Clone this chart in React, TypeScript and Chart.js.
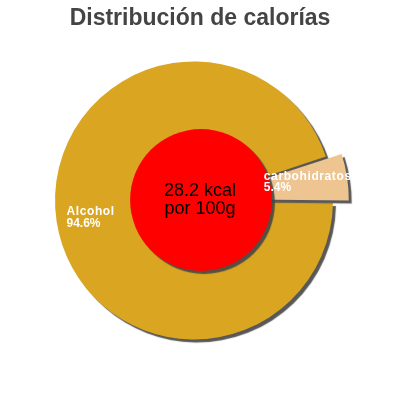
import { useEffect, useRef } from "react";
import Chart from "chart.js/auto";

// data
const labels = ["Alcohol", "carbohidratos"];
const percents = [94.6, 5.4];
const centerLines = ["28.2 kcal", "por 100g"];
const title = "Distribución de calorías";

const colors = ["#DAA520", "#EEC591"];
// chart.js translates an arc by offset/4 and grows it a bit, 38 gives ~16px pull-out
const explode = [0, 38];
// where each slice label sits, as a fraction of the radius along the slice's mid angle
const labelRadius = [0.928, 0.44];
const labelShiftY = [0, -5];

const FONT = '"Liberation Sans", Arial, Helvetica, sans-serif';

const setShadow = (ctx: CanvasRenderingContext2D) => {
  ctx.shadowColor = "rgba(70,70,70,0.9)";
  ctx.shadowOffsetX = 3;
  ctx.shadowOffsetY = 3;
  ctx.shadowBlur = 1;
};

const shadowPlugin = {
  id: "pieShadow",
  beforeDatasetsDraw(chart: any) {
    chart.ctx.save();
    setShadow(chart.ctx);
  },
  afterDatasetsDraw(chart: any) {
    chart.ctx.restore();
  },
};

const decorPlugin = {
  id: "decor",
  afterDraw(chart: any) {
    const ctx: CanvasRenderingContext2D = chart.ctx;
    const arcs = chart.getDatasetMeta(0).data;
    if (!arcs.length) return;
    const { x: cx, y: cy, outerRadius } = arcs[0].getProps(["x", "y", "outerRadius"]);

    // title
    ctx.save();
    ctx.font = `bold 23px ${FONT}`;
    ctx.fillStyle = "#444444";
    ctx.textAlign = "center";
    ctx.textBaseline = "alphabetic";
    ctx.fillText(title, 200, 25);
    ctx.restore();

    // red centre disc
    const r = outerRadius * 0.51;
    ctx.save();
    setShadow(ctx);
    ctx.beginPath();
    ctx.arc(cx + 7, cy - 0.5, r, 0, Math.PI * 2);
    ctx.fillStyle = "#FF0000";
    ctx.fill();
    ctx.restore();

    ctx.save();
    ctx.font = `18px ${FONT}`;
    ctx.fillStyle = "#000000";
    ctx.textAlign = "center";
    ctx.fillText(centerLines[0], cx + 6, cy - 4.5);
    ctx.fillText(centerLines[1], cx + 6, cy + 13.5);
    ctx.restore();

    // slice labels
    ctx.save();
    ctx.font = `bold 12px ${FONT}`;
    ctx.fillStyle = "#FFFFFF";
    ctx.textAlign = "left";
    arcs.forEach((arc: any, i: number) => {
      const { startAngle, endAngle } = arc.getProps(["startAngle", "endAngle"]);
      const mid = (startAngle + endAngle) / 2;
      const dist = labelRadius[i] * outerRadius + explode[i] / 4;
      const ax = cx + Math.cos(mid) * dist;
      const ay = cy + Math.sin(mid) * dist + labelShiftY[i];
      (ctx as any).letterSpacing = "0.6px";
      ctx.fillText(labels[i], ax, ay - 5);
      (ctx as any).letterSpacing = "0px";
      ctx.fillText(percents[i].toFixed(1) + "%", ax, ay + 6.5);
    });
    ctx.restore();
  },
};

export default function App() {
  const chartRef = useRef<HTMLCanvasElement>(null);

  useEffect(() => {
    if (!chartRef.current) return;
    Chart.getChart(chartRef.current)?.destroy();

    const chart = new Chart(chartRef.current, {
      type: "pie",
      data: {
        labels,
        datasets: [
          {
            data: percents,
            backgroundColor: colors,
            borderWidth: 0,
            offset: explode,
            hoverOffset: 0,
          },
        ],
      },
      options: {
        responsive: true,
        maintainAspectRatio: false,
        animation: false,
        rotation: 91,
        radius: 139,
        layout: { padding: { left: 0, right: 12, top: 1, bottom: 0 } },
        plugins: {
          legend: { display: false },
          tooltip: { enabled: false },
          title: { display: false },
        },
      },
      plugins: [shadowPlugin, decorPlugin],
    });

    return () => chart.destroy();
  }, []);

  return (
    <div style={{ position: "absolute", left: 0, top: 0, width: 400, height: 400, background: "#fff" }}>
      <canvas ref={chartRef}></canvas>
    </div>
  );
}
